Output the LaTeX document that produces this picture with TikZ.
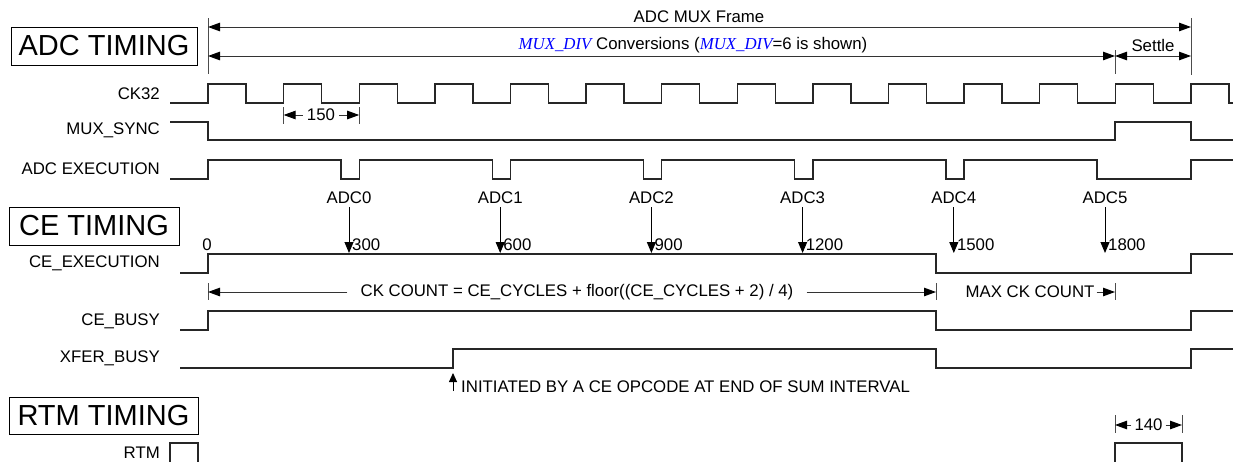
\documentclass[tikz,border=0pt]{standalone}
\usepackage{fontspec}
\setmainfont{Liberation Sans}
\newfontfamily\tms{Liberation Serif}
\usetikzlibrary{arrows.meta}
\begin{document}
\begin{tikzpicture}[x=1pt,y=-1pt,
  wave/.style={line width=1.4pt,black!85,line join=miter},
  dimline/.style={line width=1pt,black!80},
  tick/.style={line width=0.9pt,black!70},
  tip/.style={-{Triangle[length=12pt,width=8.5pt,color=black]}},
  tiptwo/.style={{Triangle[length=12pt,width=8.5pt,color=black]}-{Triangle[length=12pt,width=8.5pt,color=black]}},
  downtip/.style={line width=0.9pt,-{Triangle[length=11pt,width=9pt]}},
  sig/.style={anchor=east,font=\fontsize{16.8}{19}\selectfont,inner sep=0pt},
  txt/.style={font=\fontsize{16.8}{19}\selectfont,inner sep=0pt},
  title/.style={draw,line width=0.9pt,font=\fontsize{29}{33}\selectfont,inner sep=0pt}]
\useasboundingbox (0,0) rectangle (1233,461);
\fill[white] (0,0) rectangle (1233,461);

% titles
\node[title,minimum width=186pt,minimum height=38pt] (adct) at (104,46) {ADC TIMING};
\node[title,minimum width=170pt,minimum height=38pt] (cet) at (94,226) {CE TIMING};
\node[title,minimum width=189pt,minimum height=37pt] (rtmt) at (103.5,415.5) {RTM TIMING};

% signal labels
\node[sig] (lck) at (160,94) {CK32};
\node[sig] (lmux) at (160,130) {MUX\_SYNC};
\node[sig] (ladc) at (160,169) {ADC EXECUTION};
\node[sig] (lce) at (160,263) {CE\_EXECUTION};
\node[sig] (lbusy) at (160,321) {CE\_BUSY};
\node[sig] (lxfer) at (160,358) {XFER\_BUSY};
\node[sig] (lrtm) at (160,453) {RTM};

% top dimension lines
\draw[tick] (208,18) -- (208,74);
\draw[tick] (1191,18) -- (1191,75);
\draw[tick] (1115,50) -- (1115,74);
\coordinate (fa) at (208,27);
\coordinate (fb) at (1191,27);
\draw[dimline,tiptwo] (fa) -- (fb);
\node[txt] (lframe) at (699,17) {ADC MUX Frame};
\coordinate (ca) at (208,56);
\coordinate (cb) at (1115,56);
\coordinate (cc) at (1191,56);
\draw[dimline,tiptwo] (ca) -- (cb);
\draw[dimline,tiptwo] (cb) -- (cc);
\node[txt] (lconv) at (693,45) {{\tms\itshape\color{blue}MUX\_DIV} Conversions ({\tms\itshape\color{blue}MUX\_DIV}=6 is shown)};
\node[txt] (lsettle) at (1153,45) {Settle};

% CK32
\draw[wave] (170,103) \foreach \k in {0,...,13}{ -- ({208+75.6*\k},103) -- ({208+75.6*\k},84) -- ({246+75.6*\k},84) -- ({246+75.6*\k},103)} -- (1233,103);

% 150 dimension
\draw[tick] (283.6,107) -- (283.6,124);
\draw[tick] (359.2,107) -- (359.2,124);
\coordinate (d150a) at (283.6,115);
\coordinate (d150b) at (359.2,115);
\node[txt,inner xsep=4pt] (l150) at (321,115) {150};
\draw[dimline,tip] (l150.west) -- (d150a);
\draw[dimline,tip] (l150.east) -- (d150b);

% MUX_SYNC
\draw[wave] (170,122) -- (208,122) -- (208,140) -- (1115,140) -- (1115,122) -- (1191,122) -- (1191,140) -- (1233,140);

% ADC EXECUTION
\draw[wave] (170,179) \foreach \j in {0,...,5}{ -- ({208+151.2*\j},179) -- ({208+151.2*\j},160) -- ({341+151.2*\j},160) -- ({341+151.2*\j},179)} -- (1191,179) -- (1191,160) -- (1233,160);

% ADC markers
\foreach \j/\n in {0/300,1/600,2/900,3/1200,4/1500,5/1800}{
  \node[txt] (adc\j) at ({349+151.2*\j},198) {ADC\j};
  \coordinate (adct\j) at ({349+151.2*\j},253);
  \draw[downtip] ([yshift=-3pt]adc\j.south) -- (adct\j);
  \node[txt,anchor=west] (num\j) at ({352+151.2*\j},245) {\n};
}
\node[txt] (num0start) at (207,245) {0};

% CE_EXECUTION
\draw[wave] (180,273) -- (208,273) -- (208,254) -- (936,254) -- (936,273) -- (1191,273) -- (1191,254) -- (1233,254);

% CK COUNT dimension
\draw[tick] (208,283) -- (208,300);
\draw[tick] (936,283) -- (936,300);
\draw[tick] (1115,283) -- (1115,300);
\coordinate (cka) at (208,292);
\coordinate (ckb) at (936,292);
\coordinate (ckc) at (1115,292);
\node[txt,inner xsep=13pt] (lck2) at (577,292) {CK COUNT = CE\_CYCLES + floor((CE\_CYCLES + 2) / 4)};
\draw[dimline,tip] (lck2.west) -- (cka);
\draw[dimline,tip] (lck2.east) -- (ckb);
\node[txt,inner xsep=2pt] (lmax) at (1030,292) {MAX CK COUNT};
\draw[dimline,tip] (lmax.east) -- (ckc);

% CE_BUSY
\draw[wave] (180,330) -- (208,330) -- (208,311) -- (936,311) -- (936,330) -- (1191,330) -- (1191,311) -- (1233,311);

% XFER_BUSY
\draw[wave] (180,368) -- (453,368) -- (453,349) -- (936,349) -- (936,368) -- (1191,368) -- (1191,349) -- (1233,349);
\coordinate (inita) at (453,391);
\coordinate (initb) at (453,373);
\draw[line width=0.9pt,-{Triangle[length=9pt,width=8pt]}] (inita) -- (initb);
\node[txt,anchor=west] (linit) at (461,387) {INITIATED BY A CE OPCODE AT END OF SUM INTERVAL};

% RTM
\draw[wave] (170,463) -- (170,443) -- (198,443) -- (198,463);
\draw[wave] (1115,463) -- (1115,443) -- (1182,443) -- (1182,463);
\draw[tick] (1115,415) -- (1115,433);
\draw[tick] (1182,415) -- (1182,433);
\coordinate (r140a) at (1115,425);
\coordinate (r140b) at (1182,425);
\node[txt,inner xsep=3pt] (l140) at (1148.5,425) {140};
\draw[dimline,tip] (l140.west) -- (r140a);
\draw[dimline,tip] (l140.east) -- (r140b);
\end{tikzpicture}
\end{document}
